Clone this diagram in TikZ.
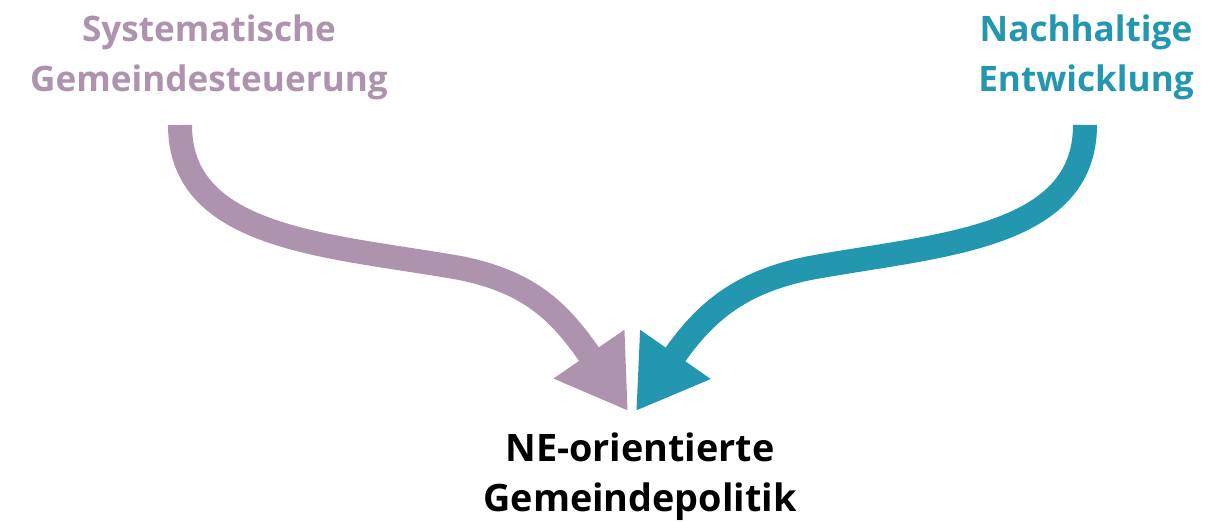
\documentclass[tikz,border=0pt]{standalone}
\usepackage{fontspec}
\setmainfont{Open Sans}
\usetikzlibrary{arrows.meta}
\definecolor{sgmauve}{HTML}{AE93AF}
\definecolor{neteal}{HTML}{2397B0}
\tikzset{
  label/.style={font=\bfseries\fontsize{20}{28.5}\selectfont,align=center},
  bigarrow/.style={line width=0.48cm,-{Triangle[length=1.38cm,width=1.62cm]}}
}
\begin{document}
\begin{tikzpicture}[x=0.02cm,y=-0.02cm]
\useasboundingbox (0,0) rectangle (1213,521);

\node[label,text=sgmauve] (sys) at (209,57) {Systematische\\Gemeindesteuerung};
\node[label,text=neteal] (ne) at (1086,57) {Nachhaltige\\Entwicklung};
\node[label,font=\bfseries\fontsize{21.5}{28.5}\selectfont] (pol) at (640,477) {NE-orientierte\\Gemeindepolitik};

\coordinate (sysout) at (180,125);
\coordinate (neout) at (1085,125);
\coordinate (sysin) at (628,411);
\coordinate (nein) at (636,411);

\draw[bigarrow,sgmauve] (sysout) .. controls (180,240) and (330,245) .. (460,268)
  .. controls (530,282) and (560,312) .. (sysin);
\draw[bigarrow,neteal] (neout) .. controls (1085,240) and (935,245) .. (810,268)
  .. controls (740,282) and (705,312) .. (nein);

\end{tikzpicture}
\end{document}
